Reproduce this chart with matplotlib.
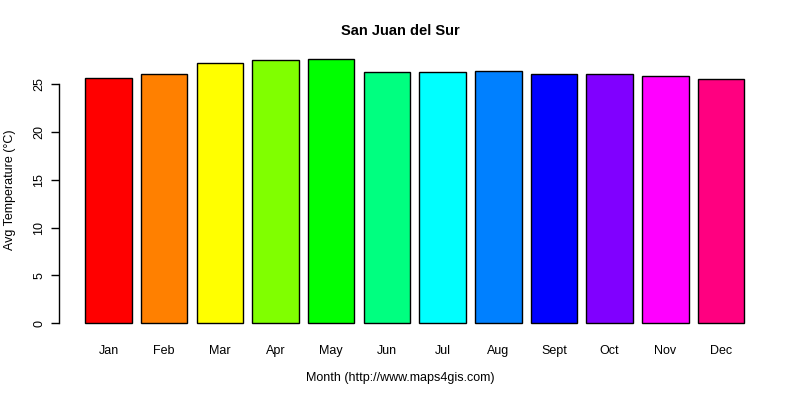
import matplotlib
matplotlib.use("Agg")
import matplotlib.pyplot as plt

months = ["Jan", "Feb", "Mar", "Apr", "May", "Jun", "Jul", "Aug", "Sept", "Oct", "Nov", "Dec"]
temps = [25.6, 26.1, 27.2, 27.5, 27.6, 26.3, 26.3, 26.4, 26.1, 26.0, 25.8, 25.5]
colors = ["#FF0000", "#FF8000", "#FFFF00", "#80FF00", "#00FF00", "#00FF80",
          "#00FFFF", "#0080FF", "#0000FF", "#8000FF", "#FF00FF", "#FF0080"]
yticks = [0, 5, 10, 15, 20, 25]

plt.rcParams['font.family'] = ['Liberation Sans', 'DejaVu Sans']

fig = plt.figure(figsize=(8, 4), dpi=100)
ax = fig.add_axes([59 / 800, 1 - 333.9 / 400, 711.6 / 800, (333.9 - 48.6) / 400])

x = [0.7 + 1.2 * i for i in range(len(months))]
ax.bar(x, temps, width=1.0, color=colors, edgecolor="black", linewidth=1.0)

x0, x1 = 0.2, 14.4
pad = (x1 - x0) * 0.04
ax.set_xlim(x0 - pad, x1 + pad)
ymax = max(temps)
ax.set_ylim(-ymax * 0.04, ymax * 1.04)

for s in ["top", "right", "bottom"]:
    ax.spines[s].set_visible(False)
ax.spines["left"].set_bounds(0, 25)
ax.spines["left"].set_linewidth(1.0)

ax.set_yticks(yticks)
ax.set_yticklabels([str(v) for v in yticks], rotation=90, va="center", fontsize=9)
ax.tick_params(axis="y", length=6, width=1.0, pad=4)

ax.set_xticks(x)
ax.set_xticklabels(months, fontsize=9)
ax.tick_params(axis="x", length=0, pad=8)

fig.text(0.5, 1 - 31 / 400, "San Juan del Sur", ha="center", va="center",
         fontsize=10.5, fontweight="bold")
fig.text(0.5, 1 - 378 / 400, "Month (http://www.maps4gis.com)", ha="center",
         va="center", fontsize=9)
fig.text(10 / 800, 1 - 190 / 400, "Avg Temperature (°C)", ha="center",
         va="center", rotation=90, fontsize=9)

fig.savefig("out.png", dpi=100)
